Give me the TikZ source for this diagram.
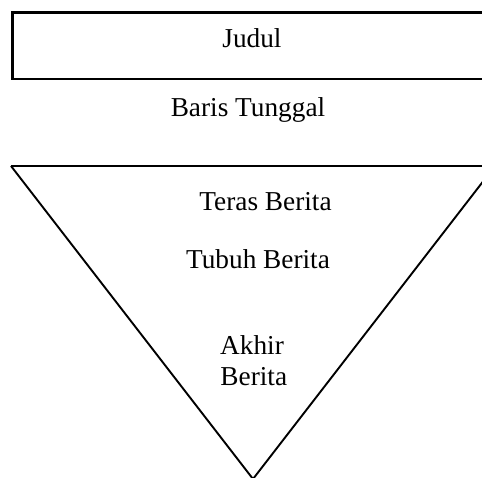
\documentclass[tikz,border=0pt]{standalone}
\usepackage{fontspec}
\setmainfont{Liberation Serif}
\begin{document}
\begin{tikzpicture}[x=1pt,y=1pt,
  lbl/.style={anchor=base,inner sep=0pt,font=\fontsize{27.3}{31}\selectfont,align=center},
  boxline/.style={line width=2.2pt,black},
  triline/.style={line width=1.9pt,black,line join=miter}]
\useasboundingbox (0,0) rectangle (482,478);
\draw[boxline] (520,465.5) -- (12.5,465.5) -- (12.5,399) -- (520,399);
\draw[triline] (11,312) -- (500,312);
\draw[triline] (11,312) -- (253,-1) -- (497,314.6);
\node[lbl] (judul) at (252,430) {Judul};
\node[lbl] (baris) at (248,361.3) {Baris Tunggal};
\node[lbl] (teras) at (265.5,267) {Teras Berita};
\node[lbl] (tubuh) at (258,209.7) {Tubuh Berita};
\node[lbl] (akhir1) at (252,123) {Akhir};
\node[lbl] (akhir2) at (253.8,92) {Berita};
\end{tikzpicture}
\end{document}
